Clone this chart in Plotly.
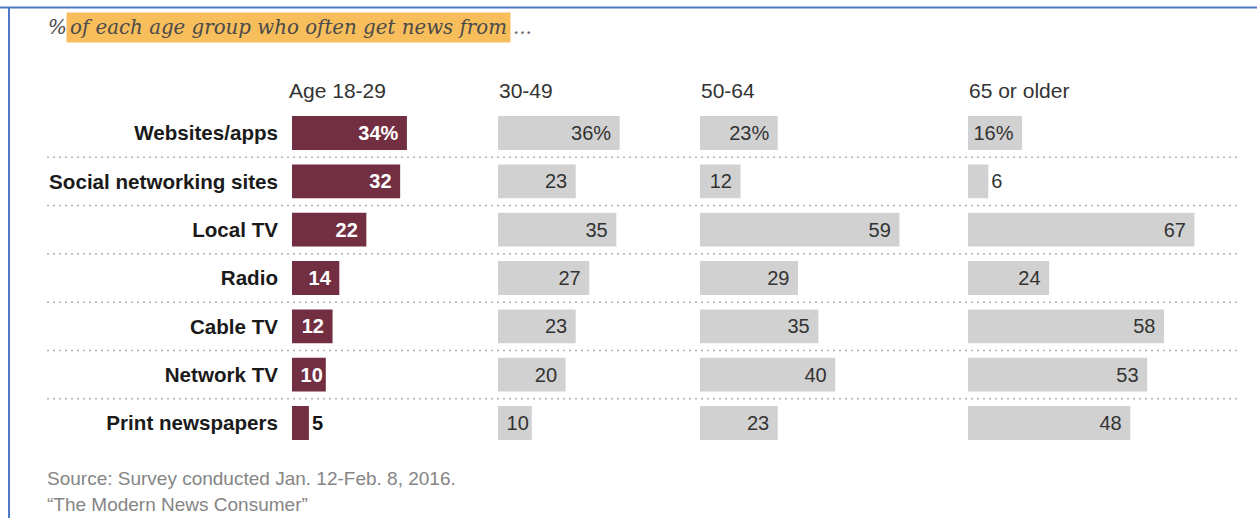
import plotly.graph_objects as go

# News sources by age group (% who often get news from each source)
categories = [
    "Websites/apps",
    "Social networking sites",
    "Local TV",
    "Radio",
    "Cable TV",
    "Network TV",
    "Print newspapers",
]
age_groups = ["Age 18-29", "30-49", "50-64", "65 or older"]
age_18_29 = [34, 32, 22, 14, 12, 10, 5]
age_30_49 = [36, 23, 35, 27, 23, 20, 10]
age_50_64 = [23, 12, 59, 29, 35, 40, 23]
age_65_plus = [16, 6, 67, 24, 58, 53, 48]

title_lead = "%"
title_text = "of each age group who often get news from"
title_tail = "..."
source_lines = [
    "Source: Survey conducted Jan. 12-Feb. 8, 2016.",
    "\u201cThe Modern News Consumer\u201d",
]

# ---- layout constants ----
W, H = 1257, 518
PX_PER_PT = 3.38
pane_left = [292, 498, 700, 968]
pane_right = [498, 700, 968, 1240]
row_top_px, row_bottom_px = 108.8, 447.2

MAROON = "#722F41"
GREY = "#D1D1D1"
FONT = "Liberation Sans, Arial, sans-serif"
NBSP = "\u00a0"

series = [age_18_29, age_30_49, age_50_64, age_65_plus]

fig = go.Figure()

for i, vals in enumerate(series):
    highlight = i == 0
    labels = []
    positions = []
    for j, v in enumerate(vals):
        lbl = f"{v}%" if j == 0 else str(v)
        inside = v >= 8
        # a little extra breathing room at the bar end when the bar is wide enough
        if inside and v >= 12:
            lbl += NBSP
        labels.append(lbl)
        positions.append("inside" if inside else "outside")
    axis_suffix = "" if i == 0 else str(i + 1)
    fig.add_trace(
        go.Bar(
            y=categories,
            x=vals,
            orientation="h",
            xaxis="x" + axis_suffix,
            yaxis="y",
            marker=dict(color=MAROON if highlight else GREY, line=dict(width=0)),
            text=labels,
            textposition=positions,
            insidetextanchor="end",
            insidetextfont=dict(
                family=FONT, size=20,
                color="white" if highlight else "#333333",
                weight="bold" if highlight else "normal",
            ),
            outsidetextfont=dict(
                family=FONT, size=20,
                color="#111111" if highlight else "#333333",
                weight="bold" if highlight else "normal",
            ),
            textangle=0,
            cliponaxis=False,
            hoverinfo="skip",
            showlegend=False,
        )
    )

    ax = dict(
        domain=[pane_left[i] / W, pane_right[i] / W],
        range=[0, (pane_right[i] - pane_left[i]) / PX_PER_PT],
        visible=False,
        fixedrange=True,
        anchor="y",
    )
    fig.layout["xaxis" + axis_suffix] = ax

    # column header
    fig.add_annotation(
        text=age_groups[i],
        xref=("x" + axis_suffix) + " domain", x=0, xanchor="left",
        xshift=-5 if i == 0 else -1,
        yref="paper", y=(H - 91) / H, yanchor="middle",
        showarrow=False,
        font=dict(family=FONT, size=21, color="#333333"),
    )

fig.update_layout(
    yaxis=dict(
        domain=[(H - row_bottom_px) / H, (H - row_top_px) / H],
        type="category",
        categoryorder="array",
        categoryarray=categories,
        range=[len(categories) - 0.5, -0.5],
        showgrid=False,
        zeroline=False,
        showline=False,
        ticks="",
        ticklabelstandoff=13,
        tickfont=dict(family=FONT, size=20.6, color="#1a1a1a", weight="bold"),
        fixedrange=True,
    ),
)

# dotted separators between rows
shapes = []
for k in range(len(categories) - 1):
    shapes.append(dict(
        type="line", xref="paper", yref="y",
        x0=47 / W, x1=1240 / W, y0=k + 0.5, y1=k + 0.5,
        line=dict(color="#b3b3b3", width=1.5, dash="2px,4px"),
        layer="below",
    ))

# frame lines along the top and left
shapes.append(dict(type="line", xref="paper", yref="paper",
                   x0=0, x1=1, y0=(H - 7.5) / H, y1=(H - 7.5) / H,
                   line=dict(color="#4F78C6", width=2)))
shapes.append(dict(type="line", xref="paper", yref="paper",
                   x0=9 / W, x1=9 / W, y0=0, y1=(H - 7.5) / H,
                   line=dict(color="#4F78C6", width=2)))
fig.update_layout(shapes=shapes)

# title with highlighted phrase
title_font = dict(family="DejaVu Serif, Georgia, serif", size=19.8,
                  color="#4a4a4a", style="italic")
title_y = (H - 27) / H
fig.add_annotation(text=title_lead, xref="paper", x=46 / W, xanchor="left",
                   yref="paper", y=title_y, yanchor="middle",
                   showarrow=False, font=title_font)
fig.add_annotation(text=title_text, xref="paper", x=66 / W, xanchor="left",
                   yref="paper", y=title_y, yanchor="middle",
                   showarrow=False, font=title_font,
                   bgcolor="#F8BE5C", borderpad=3)
fig.add_annotation(text=title_tail, xref="paper", x=511 / W, xanchor="left",
                   yref="paper", y=title_y, yanchor="middle",
                   showarrow=False, font=dict(title_font, color="#6b6b6b"))

# source note
for n, line in enumerate(source_lines):
    fig.add_annotation(text=line, xref="paper", x=45 / W, xanchor="left",
                       yref="paper", y=(H - (478 + 26 * n)) / H, yanchor="middle",
                       showarrow=False,
                       font=dict(family=FONT, size=19, color="#858585"))

fig.update_layout(
    width=W, height=H, autosize=False,
    margin=dict(l=0, r=0, t=0, b=0, pad=0),
    paper_bgcolor="white", plot_bgcolor="white",
    bargap=0.3,
)

fig.write_html("out.html", config={"displayModeBar": False})
